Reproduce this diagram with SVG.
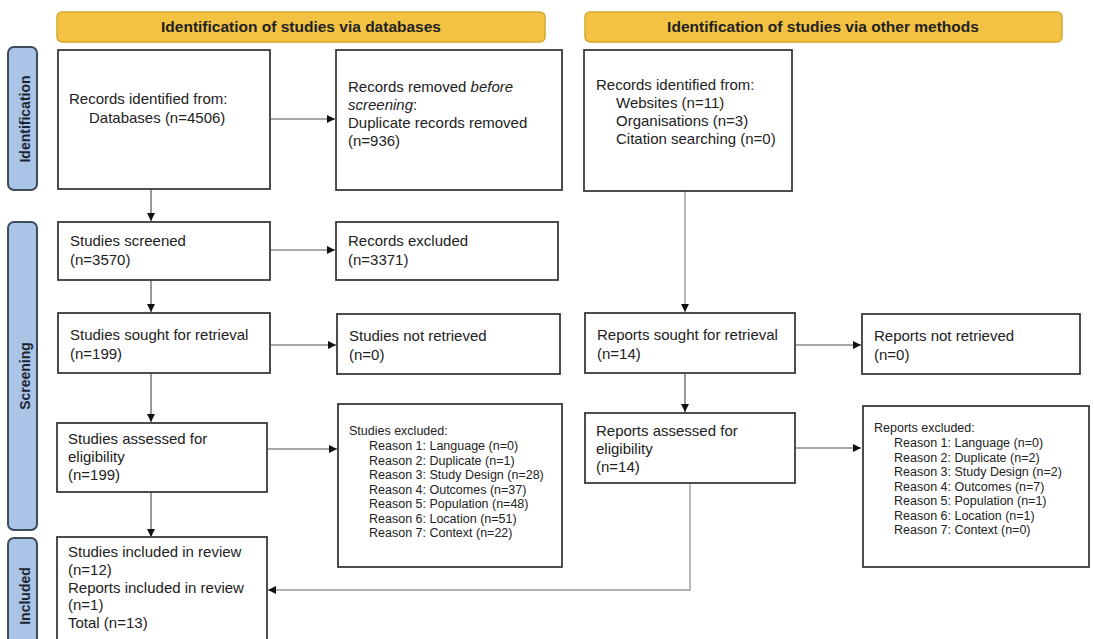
<svg xmlns="http://www.w3.org/2000/svg" width="1094" height="639" viewBox="0 0 1094 639">
<style>
.bg{fill:#ffffff}
.hdr{fill:#F3C243;stroke:#D6A630;stroke-width:1.5}
.hdrt{font-family:"Liberation Sans",Arial,sans-serif;font-size:15.5px;font-weight:bold;fill:#222;text-anchor:middle}
.side{fill:#A9C4E6;stroke:#3F4A5A;stroke-width:2}
.sidet{font-family:"Liberation Sans",Arial,sans-serif;font-size:14px;font-weight:bold;fill:#1d2430;text-anchor:middle}
.box{fill:#ffffff;stroke:#3a3a3a;stroke-width:1.8}
.t{font-family:"Liberation Sans",Arial,sans-serif;font-size:15px;fill:#222}
.s{font-family:"Liberation Sans",Arial,sans-serif;font-size:12.5px;fill:#222}
.c{fill:none;stroke:#555;stroke-width:1.2}
.cl{fill:none;stroke:#9a9a9a;stroke-width:1.4}
</style>
<defs>
<marker id="ah" viewBox="0 0 10 10" refX="10" refY="5" markerWidth="8" markerHeight="8" markerUnits="userSpaceOnUse" orient="auto">
<path d="M0,0 L10,5 L0,10 z" fill="#111"/>
</marker>
</defs>
<rect class="bg" x="0" y="0" width="1094" height="639"/>

<g id="header-databases">
<rect class="hdr" x="57" y="12" width="488" height="30" rx="5"/>
<text class="hdrt" x="301" y="32">Identification of studies via databases</text>
</g>
<g id="header-other">
<rect class="hdr" x="585" y="12" width="477" height="30" rx="5"/>
<text class="hdrt" x="823" y="32">Identification of studies via other methods</text>
</g>

<g id="label-identification">
<rect class="side" x="8" y="47" width="29" height="143" rx="6"/>
<text class="sidet" transform="translate(30,119) rotate(-90)">Identification</text>
</g>
<g id="label-screening">
<rect class="side" x="8" y="222" width="29" height="308" rx="6"/>
<text class="sidet" transform="translate(30,376) rotate(-90)">Screening</text>
</g>
<g id="label-included">
<rect class="side" x="8" y="538" width="29" height="115" rx="6"/>
<text class="sidet" transform="translate(30,596) rotate(-90)">Included</text>
</g>

<g id="connectors">
<line class="c" x1="151" y1="189" x2="151" y2="221" marker-end="url(#ah)"/>
<line class="c" x1="270" y1="119" x2="335" y2="119" marker-end="url(#ah)"/>
<line class="c" x1="270" y1="250" x2="335" y2="250" marker-end="url(#ah)"/>
<line class="c" x1="151" y1="280" x2="151" y2="312" marker-end="url(#ah)"/>
<line class="c" x1="270" y1="345" x2="336" y2="345" marker-end="url(#ah)"/>
<line class="c" x1="151" y1="373" x2="151" y2="422" marker-end="url(#ah)"/>
<line class="c" x1="267" y1="449" x2="337" y2="449" marker-end="url(#ah)"/>
<line class="c" x1="151" y1="492" x2="151" y2="537" marker-end="url(#ah)"/>
<line class="cl" x1="685" y1="191" x2="685" y2="312" marker-end="url(#ah)"/>
<line class="c" x1="795" y1="345" x2="861" y2="345" marker-end="url(#ah)"/>
<line class="c" x1="685" y1="373" x2="685" y2="412" marker-end="url(#ah)"/>
<line class="c" x1="795" y1="448" x2="861" y2="448" marker-end="url(#ah)"/>
<polyline class="cl" points="690,483 690,590 268,590" marker-end="url(#ah)"/>
</g>

<g id="records-identified-db">
<rect class="box" x="58" y="50" width="212" height="139"/>
<text class="t" x="69" y="104">Records identified from:</text>
<text class="t" x="89" y="123">Databases (n=4506)</text>
</g>
<g id="records-removed">
<rect class="box" x="336" y="50" width="226" height="140"/>
<text class="t" x="348" y="92">Records removed <tspan font-style="italic">before</tspan></text>
<text class="t" x="348" y="110"><tspan font-style="italic">screening</tspan>:</text>
<text class="t" x="348" y="128">Duplicate records removed</text>
<text class="t" x="348" y="146">(n=936)</text>
</g>
<g id="records-identified-other">
<rect class="box" x="584" y="50" width="208" height="141"/>
<text class="t" x="596" y="90">Records identified from:</text>
<text class="t" x="616" y="108">Websites (n=11)</text>
<text class="t" x="616" y="126">Organisations (n=3)</text>
<text class="t" x="616" y="144">Citation searching (n=0)</text>
</g>

<g id="studies-screened">
<rect class="box" x="58" y="222" width="212" height="58"/>
<text class="t" x="70" y="246">Studies screened</text>
<text class="t" x="70" y="265">(n=3570)</text>
</g>
<g id="records-excluded">
<rect class="box" x="336" y="222" width="222" height="58"/>
<text class="t" x="348" y="246">Records excluded</text>
<text class="t" x="348" y="265">(n=3371)</text>
</g>
<g id="studies-sought">
<rect class="box" x="58" y="313" width="212" height="60"/>
<text class="t" x="70" y="340">Studies sought for retrieval</text>
<text class="t" x="70" y="359">(n=199)</text>
</g>
<g id="studies-not-retrieved">
<rect class="box" x="337" y="314" width="223" height="60"/>
<text class="t" x="349" y="341">Studies not retrieved</text>
<text class="t" x="349" y="360">(n=0)</text>
</g>
<g id="studies-assessed">
<rect class="box" x="57" y="423" width="210" height="69"/>
<text class="t" x="68" y="444">Studies assessed for</text>
<text class="t" x="68" y="462">eligibility</text>
<text class="t" x="68" y="480">(n=199)</text>
</g>
<g id="studies-excluded">
<rect class="box" x="338" y="404" width="224" height="163"/>
<text class="s" x="349" y="435">Studies excluded:</text>
<text class="s" x="369" y="450">Reason 1: Language (n=0)</text>
<text class="s" x="369" y="464.5">Reason 2: Duplicate (n=1)</text>
<text class="s" x="369" y="479">Reason 3: Study Design (n=28)</text>
<text class="s" x="369" y="493.5">Reason 4: Outcomes (n=37)</text>
<text class="s" x="369" y="508">Reason 5: Population (n=48)</text>
<text class="s" x="369" y="522.5">Reason 6: Location (n=51)</text>
<text class="s" x="369" y="537">Reason 7: Context (n=22)</text>
</g>
<g id="included">
<rect class="box" x="57" y="537" width="210" height="110"/>
<text class="t" x="68" y="557">Studies included in review</text>
<text class="t" x="68" y="575">(n=12)</text>
<text class="t" x="68" y="593">Reports included in review</text>
<text class="t" x="68" y="610">(n=1)</text>
<text class="t" x="68" y="628">Total (n=13)</text>
</g>

<g id="reports-sought">
<rect class="box" x="585" y="313" width="210" height="60"/>
<text class="t" x="597" y="340">Reports sought for retrieval</text>
<text class="t" x="597" y="359">(n=14)</text>
</g>
<g id="reports-not-retrieved">
<rect class="box" x="862" y="314" width="218" height="60"/>
<text class="t" x="874" y="341">Reports not retrieved</text>
<text class="t" x="874" y="360">(n=0)</text>
</g>
<g id="reports-assessed">
<rect class="box" x="585" y="413" width="210" height="70"/>
<text class="t" x="596" y="436">Reports assessed for</text>
<text class="t" x="596" y="454">eligibility</text>
<text class="t" x="596" y="472">(n=14)</text>
</g>
<g id="reports-excluded">
<rect class="box" x="863" y="406" width="226" height="161"/>
<text class="s" x="874" y="432">Reports excluded:</text>
<text class="s" x="894" y="447">Reason 1: Language (n=0)</text>
<text class="s" x="894" y="461.5">Reason 2: Duplicate (n=2)</text>
<text class="s" x="894" y="476">Reason 3: Study Design (n=2)</text>
<text class="s" x="894" y="490.5">Reason 4: Outcomes (n=7)</text>
<text class="s" x="894" y="505">Reason 5: Population (n=1)</text>
<text class="s" x="894" y="519.5">Reason 6: Location (n=1)</text>
<text class="s" x="894" y="534">Reason 7: Context (n=0)</text>
</g>
</svg>
